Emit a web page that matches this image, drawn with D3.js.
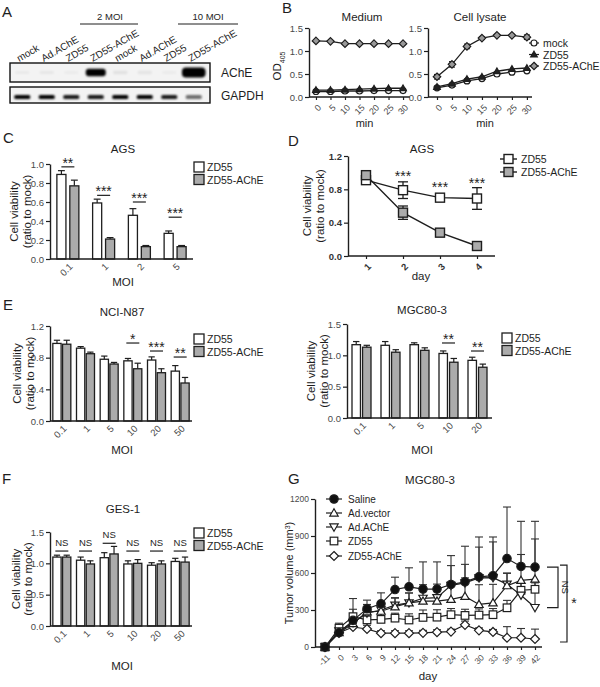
<!DOCTYPE html>
<html><head><meta charset="utf-8">
<script src="https://cdn.jsdelivr.net/npm/d3@7"></script>
<style>body{margin:0;background:#fff}svg{display:block}</style>
</head><body>
<svg id="c" width="600" height="687"></svg>
<script>
// ---------------- DATA ----------------
// A: western blot
const blotLanes = ["mock","Ad.AChE","ZD55","ZD55-AChE","mock","Ad.AChE","ZD55","ZD55-AChE"];
const blotGroups = ["2 MOI","10 MOI"];
const blotAChE = [0.04,0.05,0.03,1.0,0.07,0.06,0.03,1.6];
const blotGAPDH = [1.0,1.0,0.9,0.9,1.0,1.0,0.9,0.55];
// B: OD405
const bTimes = [0,5,10,15,20,25,30];
const bSeries = ["mock","ZD55","ZD55-AChE"];
const bMedMock = [0.12,0.12,0.13,0.13,0.14,0.14,0.14];
const bMedZD55 = [0.15,0.15,0.16,0.17,0.18,0.19,0.19];
const bMedAChE = [1.22,1.21,1.16,1.16,1.16,1.16,1.16];
const bLysMock = [0.20,0.26,0.35,0.40,0.50,0.54,0.57];
const bLysZD55 = [0.22,0.29,0.39,0.44,0.56,0.61,0.63];
const bLysAChE = [0.44,0.71,1.10,1.28,1.34,1.34,1.30];
const bLysAChEErr = [0.05,0.06,0.05,0.03,0.02,0.02,0.05];
const bTicksY = [0,0.5,1.0,1.5];
// C: AGS by MOI
const cMOI = ["0.1","1","2","5"];
const cZD55 = [0.89,0.59,0.46,0.27];
const cZD55Err = [0.04,0.04,0.07,0.025];
const cAChE = [0.77,0.21,0.13,0.13];
const cAChEErr = [0.06,0.015,0.012,0.012];
const cSig = ["**","***","***","***"];
const cSigLevel = [0.97,0.67,0.60,0.44];
const cTicksY = [0,0.2,0.4,0.6,0.8,1.0];
// D: AGS by day
const dDays = [1,2,3,4];
const dZD55 = [0.91,0.79,0.70,0.69];
const dZD55Err = [0.02,0.10,0.03,0.13];
const dAChE = [0.97,0.52,0.28,0.12];
const dAChEErr = [0.02,0.08,0.02,0.02];
const dSig = ["","***","***","***"];
const dSigLevel = [null,0.90,0.77,0.82];
const dTicksY = [0,0.4,0.8,1.2];
// E: NCI-N87
const eMOI = ["0.1","1","5","10","20","50"];
const eZD55 = [0.98,0.92,0.78,0.76,0.77,0.63];
const eZD55Err = [0.04,0.02,0.04,0.03,0.04,0.07];
const eAChE = [0.97,0.85,0.72,0.66,0.61,0.48];
const eAChEErr = [0.05,0.02,0.02,0.07,0.05,0.07];
const eSig = ["","","","*","***","**"];
const eSigLevel = [null,null,null,0.985,0.884,0.808];
const eTicksY = [0,0.4,0.8,1.2];
// E: MGC80-3
const mMOI = ["0.1","1","5","10","20"];
const mZD55 = [1.17,1.16,1.17,1.03,0.92];
const mZD55Err = [0.05,0.06,0.03,0.04,0.05];
const mAChE = [1.13,1.05,1.08,0.89,0.81];
const mAChEErr = [0.03,0.04,0.04,0.06,0.05];
const mSig = ["","","","**","**"];
const mSigLevel = [null,null,null,1.197,1.069];
const mTicksY = [0,0.5,1.0,1.5];
// F: GES-1
const fMOI = ["0.1","1","5","10","20","50"];
const fZD55 = [1.10,1.05,1.09,0.99,0.97,1.03];
const fZD55Err = [0.03,0.05,0.08,0.05,0.04,0.05];
const fAChE = [1.10,0.99,1.15,1.00,0.99,1.02];
const fAChEErr = [0.03,0.05,0.12,0.06,0.05,0.08];
const fSig = ["NS","NS","NS","NS","NS","NS"];
const fSigLevel = [1.196,1.196,1.32,1.196,1.196,1.196];
const fTicksY = [0,0.5,1.0,1.5];
// G: tumor volume
const gDays = ["-11","0","3","6","9","12","15","18","21","24","27","30","33","36","39","42"];
const gSeries = ["Saline","Ad.vector","Ad.AChE","ZD55","ZD55-AChE"];
const gSaline = [0,116,216,310,350,466,488,470,470,507,528,569,578,717,653,648];
const gSalineErr = [0,30,177,70,89,100,154,220,220,234,289,323,314,418,366,371];
const gAdVector = [0,116,190,285,290,326,358,372,372,386,410,345,358,497,540,550];
const gAdVectorErr = [0,30,60,60,50,70,80,100,100,130,150,160,150,100,210,326];
const gAdAChE = [0,130,197,275,300,340,358,395,400,500,520,560,562,510,420,320];
const gAdAChEErr = [0,20,40,40,60,60,80,110,110,160,150,250,290,90,100,200];
const gZD55 = [0,153,246,220,224,234,219,240,242,262,256,259,262,318,460,468];
const gZD55Err = [0,40,60,40,60,40,50,60,60,50,50,50,50,60,60,60];
const gZAChE = [0,115,162,146,112,112,112,115,120,125,180,135,122,75,75,65];
const gZAChEErr = [0,20,30,30,20,20,20,20,20,20,30,20,20,90,75,80];
const gTicksY = [0,300,600,900,1200];

// ---------------- STYLE / HELPERS ----------------
const FONT = '"Liberation Sans", Arial, Helvetica, sans-serif';
const INK = "#1e1e1e", TICKC = "#4a4a4a", GRAY = "#ababab";
const svg = d3.select("#c");
svg.append("rect").attr("width",600).attr("height",687).attr("fill","#fff");
const defs = svg.append("defs");
defs.append("filter").attr("id","blur").attr("x","-50%").attr("y","-100%").attr("width","200%").attr("height","300%")
  .append("feGaussianBlur").attr("stdDeviation",1.1);

function text(p, x, y, s, o = {}) {
  const t = p.append("text").attr("x", x).attr("y", y).text(s)
    .style("font-family", FONT).style("font-size", (o.size || 11) + "px")
    .attr("fill", o.fill || INK).attr("text-anchor", o.anchor || "middle");
  if (o.rotate != null) t.attr("transform", `rotate(${o.rotate},${x},${y})`);
  if (o.weight) t.style("font-weight", o.weight);
  return t;
}
function styleAxis(g, size, weight) {
  g.select(".domain").attr("stroke", INK).attr("stroke-width", 1.4);
  g.selectAll(".tick line").attr("stroke", INK).attr("stroke-width", 1.2);
  g.selectAll(".tick text").attr("fill", TICKC).style("font-size", size + "px").style("font-family", FONT);
  if (weight) g.selectAll(".tick text").style("font-weight", weight).attr("fill", "#333");
}
function yAxis(y, x0, ticks, fmt, size = 9.5, weight) {
  const g = svg.append("g").attr("transform", `translate(${x0},0)`)
    .call(d3.axisLeft(y).tickValues(ticks).tickFormat(fmt).tickSize(4).tickSizeOuter(0).tickPadding(2));
  styleAxis(g, size, weight);
}
function xAxisRot(scale, y0, ticks, x0, x1, tick, size = 9.5, weight, fmt) {
  const a = d3.axisBottom(scale).tickSize(tick).tickSizeOuter(0);
  if (ticks) a.tickValues(ticks);
  if (fmt) a.tickFormat(fmt);
  const g = svg.append("g").attr("transform", `translate(0,${y0})`).call(a);
  g.select(".domain").remove();
  styleAxis(g, size, weight);
  g.selectAll(".tick text").attr("x", 0).attr("y", 0).attr("dy", "0.35em")
    .attr("text-anchor", "end").attr("transform", `translate(3,${tick + 6}) rotate(-45)`);
  g.append("line").attr("x1", x0).attr("x2", x1).attr("y1", 0).attr("y2", 0)
    .attr("stroke", INK).attr("stroke-width", 1.4);
}
function ylabel2(xb1, xb2, cy, l1, l2) {
  text(svg, xb1, cy, l1, { size: 11.5, rotate: -90 });
  text(svg, xb2, cy, l2, { size: 11.5, rotate: -90 });
}
function legendBars(x, y, tx, names) {
  names.forEach((n, i) => {
    svg.append("rect").attr("x", x).attr("y", y + i * 12.5).attr("width", 10).attr("height", 10)
      .attr("fill", i ? GRAY : "#fff").attr("stroke", INK).attr("stroke-width", 1.3);
    text(svg, tx, y + i * 12.5 + 9, n, { size: 10.5, anchor: "start" });
  });
}
const diamondPath = r => `M0,${-r}L${r},0L0,${r}L${-r},0Z`;
function marker(g, type, x, y, s) {
  let p;
  if (type === "circle") p = g.append("circle").attr("cx", x).attr("cy", y).attr("r", s);
  else if (type === "square") p = g.append("rect").attr("x", x - s).attr("y", y - s).attr("width", 2 * s).attr("height", 2 * s);
  else if (type === "diamond") p = g.append("path").attr("d", diamondPath(s * 1.25)).attr("transform", `translate(${x},${y})`);
  else if (type === "tri") p = g.append("path").attr("d", `M0,${-s * 1.1}L${s * 1.1},${s * 0.8}L${-s * 1.1},${s * 0.8}Z`).attr("transform", `translate(${x},${y})`);
  else if (type === "trid") p = g.append("path").attr("d", `M0,${s * 1.1}L${s * 1.1},${-s * 0.8}L${-s * 1.1},${-s * 0.8}Z`).attr("transform", `translate(${x},${y})`);
  return p.attr("stroke", INK).attr("stroke-width", 1.2);
}

// ---------------- PANEL LETTERS ----------------
[["A",2,17],["B",282,13],["C",3,143],["D",288,146],["E",3,310],["F",2,484],["G",288,484]]
  .forEach(([l,x,y]) => text(svg, x, y, l, { size: 15, anchor: "start" }));

// ---------------- A: BLOT ----------------
(function () {
  const lx = d3.scaleBand().domain(d3.range(blotLanes.length)).range([10, 206]);
  const gA = svg.append("g");
  [[80,138,110],[178,238,208]].forEach((d, i) => {
    gA.append("line").attr("x1", d[0]).attr("x2", d[1]).attr("y1", 24).attr("y2", 24).attr("stroke", INK).attr("stroke-width", 1);
    text(gA, d[2], 20, blotGroups[i], { size: 9.5 });
  });
  blotLanes.forEach((l, i) => {
    const cx = lx(i) + lx.bandwidth() / 2;
    text(gA, cx - 3, 62, l, { size: 10, anchor: "start", rotate: -30 });
  });
  gA.append("rect").attr("x", 10).attr("y", 63).attr("width", 200).attr("height", 19).attr("fill", "#f3f3f3").attr("stroke", "#111").attr("stroke-width", 1.4);
  gA.append("rect").attr("x", 10).attr("y", 87).attr("width", 200).attr("height", 16).attr("fill", "#f3f3f3").attr("stroke", "#111").attr("stroke-width", 1.4);
  blotAChE.forEach((v, i) => {
    const cx = lx(i) + lx.bandwidth() / 2;
    const w = 14 + 6 * v, h = 3 + 4.5 * v;
    gA.append("rect").attr("x", cx - w / 2).attr("y", 72.5 - h / 2).attr("width", w).attr("height", h)
      .attr("rx", h / 2.5).attr("fill", "#000").attr("opacity", Math.min(1, v)).attr("filter", "url(#blur)");
  });
  blotGAPDH.forEach((v, i) => {
    const cx = lx(i) + lx.bandwidth() / 2;
    gA.append("rect").attr("x", cx - 8).attr("y", 95).attr("width", 16).attr("height", 4)
      .attr("rx", 1.5).attr("fill", "#000").attr("opacity", v).attr("filter", "url(#blur)");
  });
  text(gA, 221, 77, "AChE", { size: 12, anchor: "start" });
  text(gA, 221, 100, "GAPDH", { size: 12, anchor: "start" });
})();

// ---------------- B: OD405 ----------------
(function () {
  const y = d3.scaleLinear().domain([0, 1.5]).range([97, 28]);
  const fmt = d3.format(".1f");
  const panels = [
    { x0: 309, x1: 410, dom: [-2.4, 32.4], title: "Medium", tx: 362, mock: bMedMock, zd: bMedZD55, ach: bMedAChE, err: null },
    { x0: 428, x1: 532, dom: [-3, 31.7], title: "Cell lysate", tx: 480, mock: bLysMock, zd: bLysZD55, ach: bLysAChE, err: bLysAChEErr }
  ];
  panels.forEach(p => {
    const x = d3.scaleLinear().domain(p.dom).range([p.x0, p.x1]);
    yAxis(y, p.x0, bTicksY, fmt, 9.5);
    xAxisRot(x, 97, bTimes, p.x0, p.x1, 3, 9, null, d3.format("d"));
    text(svg, p.tx, 21, p.title, { size: 11.5 });
    text(svg, (p.x0 + p.x1) / 2 + 5, 127, "min", { size: 11 });
    const g = svg.append("g");
    const line = d3.line().x((d, i) => x(bTimes[i])).y(d => y(d));
    [p.mock, p.zd, p.ach].forEach(s => g.append("path").attr("d", line(s)).attr("fill", "none").attr("stroke", INK).attr("stroke-width", 1.3));
    if (p.err) p.ach.forEach((v, i) => {
      const cx = x(bTimes[i]);
      g.append("line").attr("x1", cx).attr("x2", cx).attr("y1", y(v - p.err[i])).attr("y2", y(v + p.err[i])).attr("stroke", INK).attr("stroke-width", 1.1);
      [v - p.err[i], v + p.err[i]].forEach(e => g.append("line").attr("x1", cx - 3).attr("x2", cx + 3).attr("y1", y(e)).attr("y2", y(e)).attr("stroke", INK).attr("stroke-width", 1.1));
    });
    p.mock.forEach((v, i) => { marker(g, "circle", x(bTimes[i]), y(v), 3).attr("fill", "#fff"); });
    p.zd.forEach((v, i) => { marker(g, "tri", x(bTimes[i]), y(v), 3).attr("fill", "#222"); });
    p.ach.forEach((v, i) => { marker(g, "diamond", x(bTimes[i]), y(v), 3).attr("fill", "#999"); });
  });
  const t = text(svg, 281, 66, "OD", { size: 11.5, rotate: -90 });
  t.append("tspan").attr("baseline-shift", "sub").style("font-size", "7px").text("405");
  const types = ["circle", "tri", "diamond"], fills = ["#fff", "#222", "#999"];
  bSeries.forEach((n, i) => {
    const yy = 43 + i * 11.5;
    svg.append("line").attr("x1", 529).attr("x2", 539).attr("y1", yy).attr("y2", yy).attr("stroke", INK).attr("stroke-width", 1.2);
    marker(svg, types[i], 534, yy, 3).attr("fill", fills[i]);
    text(svg, 543, yy + 4, n, { size: 10.5, anchor: "start" });
  });
})();

// ---------------- BAR CHART HELPER ----------------
function barChart(o) {
  const x = d3.scaleBand().domain(o.cats).range(o.xr);
  const y = d3.scaleLinear().domain(o.yd).range(o.yr);
  const sub = d3.scaleBand().domain(["ZD55", "ZD55-AChE"]).range([-o.half, o.half]).paddingInner(o.pad);
  const g = svg.append("g");
  const series = [{ k: "ZD55", v: o.a, e: o.ae, fill: "#fff" }, { k: "ZD55-AChE", v: o.b, e: o.be, fill: GRAY }];
  series.forEach(s => s.v.forEach((v, i) => {
    const w = sub.bandwidth();
    const x0 = x(o.cats[i]) + x.bandwidth() / 2 + sub(s.k);
    const cx = x0 + w / 2, top = y(v + s.e[i]);
    g.append("line").attr("x1", cx).attr("x2", cx).attr("y1", y(v)).attr("y2", top).attr("stroke", INK).attr("stroke-width", 1.2);
    g.append("line").attr("x1", cx - w * 0.38).attr("x2", cx + w * 0.38).attr("y1", top).attr("y2", top).attr("stroke", INK).attr("stroke-width", 1.2);
    g.append("rect").attr("x", x0).attr("y", y(v)).attr("width", w).attr("height", y(0) - y(v))
      .attr("fill", s.fill).attr("stroke", INK).attr("stroke-width", 1.3);
  }));
  yAxis(y, o.xr[0], o.ticks, d3.format(".1f"), 9.5);
  xAxisRot(x, o.yr[0], null, o.xr[0], o.xr[1], 0, 9.5);
  o.sig.forEach((s, i) => {
    if (!s) return;
    const cx = x(o.cats[i]) + x.bandwidth() / 2, ly = y(o.sigLevel[i]);
    g.append("line").attr("x1", cx - 6.5).attr("x2", cx + 6.5).attr("y1", ly).attr("y2", ly).attr("stroke", INK).attr("stroke-width", 1.2);
    if (s === "NS") text(g, cx, ly - 5, s, { size: 9.5 });
    else text(g, cx, ly + 1, s, { size: 14 });
  });
  text(svg, o.title[0], o.title[1], o.title[2], { size: 11.5 });
  text(svg, o.xl[0], o.xl[1], "MOI", { size: 11.5 });
  ylabel2(o.yl[0], o.yl[1], (o.yr[0] + o.yr[1]) / 2, "Cell viability", "(ratio to mock)");
  legendBars(o.lg[0], o.lg[1], o.lg[2], ["ZD55", "ZD55-AChE"]);
}

barChart({ cats: cMOI, a: cZD55, ae: cZD55Err, b: cAChE, be: cAChEErr, xr: [50, 193], yd: [0, 1], yr: [259, 164],
  half: 11, pad: 0.3, ticks: cTicksY, sig: cSig, sigLevel: cSigLevel, title: [123, 153, "AGS"], xl: [123, 286],
  yl: [18, 31], lg: [194, 162, 207] });
barChart({ cats: eMOI, a: eZD55, ae: eZD55Err, b: eAChE, be: eAChEErr, xr: [50, 192], yd: [0, 1.2], yr: [421, 326],
  half: 9, pad: 0.15, ticks: eTicksY, sig: eSig, sigLevel: eSigLevel, title: [122, 316, "NCI-N87"], xl: [122, 454],
  yl: [21, 34], lg: [194, 334, 207] });
barChart({ cats: mMOI, a: mZD55, ae: mZD55Err, b: mAChE, be: mAChEErr, xr: [347, 492], yd: [0, 1.5], yr: [418, 324],
  half: 9.5, pad: 0.2, ticks: mTicksY, sig: mSig, sigLevel: mSigLevel, title: [422, 314, "MGC80-3"], xl: [422, 454],
  yl: [315, 328], lg: [502, 333, 515] });
barChart({ cats: fMOI, a: fZD55, ae: fZD55Err, b: fAChE, be: fAChEErr, xr: [50, 192], yd: [0, 1.5], yr: [626, 532],
  half: 9, pad: 0.15, ticks: fTicksY, sig: fSig, sigLevel: fSigLevel, title: [123, 513, "GES-1"], xl: [122, 670],
  yl: [20, 32], lg: [194, 528, 207] });

// ---------------- D ----------------
(function () {
  const x = d3.scaleLinear().domain([1, 4]).range([366, 477]);
  const y = d3.scaleLinear().domain([0, 1.2]).range([256, 156]);
  yAxis(y, 348, dTicksY, d3.format(".1f"), 9.5, "bold");
  xAxisRot(x, 256, dDays, 348, 495, 3, 9.5, "bold", d3.format("d"));
  const g = svg.append("g");
  const line = d3.line().x((d, i) => x(dDays[i])).y(d => y(d));
  const ser = [{ v: dZD55, e: dZD55Err, f: "#fff" }, { v: dAChE, e: dAChEErr, f: GRAY }];
  ser.forEach(s => g.append("path").attr("d", line(s.v)).attr("fill", "none").attr("stroke", INK).attr("stroke-width", 1.4));
  ser.forEach(s => s.v.forEach((v, i) => {
    const cx = x(dDays[i]);
    g.append("line").attr("x1", cx).attr("x2", cx).attr("y1", y(v - s.e[i])).attr("y2", y(v + s.e[i])).attr("stroke", INK).attr("stroke-width", 1.3);
    [v - s.e[i], v + s.e[i]].forEach(e => g.append("line").attr("x1", cx - 5).attr("x2", cx + 5).attr("y1", y(e)).attr("y2", y(e)).attr("stroke", INK).attr("stroke-width", 1.3));
  }));
  ser.forEach(s => s.v.forEach((v, i) => marker(g, "square", x(dDays[i]), y(v), 4.5).attr("fill", s.f).attr("stroke-width", 1.4)));
  dSig.forEach((s, i) => { if (s) text(g, x(dDays[i]), y(dSigLevel[i]), s, { size: 14 }); });
  text(svg, 422, 153, "AGS", { size: 11.5 });
  text(svg, 421, 280, "day", { size: 11.5 });
  ylabel2(311, 324, 206, "Cell viability", "(ratio to mock)");
  ["ZD55", "ZD55-AChE"].forEach((n, i) => {
    const yy = 159 + i * 13, f = i ? GRAY : "#fff";
    svg.append("line").attr("x1", 500).attr("x2", 517).attr("y1", yy).attr("y2", yy).attr("stroke", INK).attr("stroke-width", 1.4);
    marker(svg, "square", 508.5, yy, 4.5).attr("fill", f).attr("stroke-width", 1.4);
    text(svg, 521, yy + 4, n, { size: 10.5, anchor: "start" });
  });
})();

// ---------------- G ----------------
(function () {
  const x = d3.scalePoint().domain(gDays).range([325, 535]);
  const y = d3.scaleLinear().domain([0, 1200]).range([647, 499]);
  yAxis(y, 315, gTicksY, d3.format("d"), 8.5);
  xAxisRot(x, 647, null, 315, 542, 3, 8.5);
  const g = svg.append("g");
  const ser = [
    { n: "ZD55-AChE", v: gZAChE, e: gZAChEErr, t: "diamond", f: "#fff", s: 3.6 },
    { n: "ZD55", v: gZD55, e: gZD55Err, t: "square", f: "#fff", s: 3.8 },
    { n: "Ad.AChE", v: gAdAChE, e: gAdAChEErr, t: "trid", f: "#fff", s: 3.8 },
    { n: "Ad.vector", v: gAdVector, e: gAdVectorErr, t: "tri", f: "#fff", s: 3.8 },
    { n: "Saline", v: gSaline, e: gSalineErr, t: "circle", f: "#111", s: 4.2 }
  ];
  ser.forEach(s => s.v.forEach((v, i) => {
    if (!s.e[i]) return;
    const cx = x(gDays[i]), top = y(v + s.e[i]);
    g.append("line").attr("x1", cx).attr("x2", cx).attr("y1", y(v)).attr("y2", top).attr("stroke", "#333").attr("stroke-width", 1.1);
    g.append("line").attr("x1", cx - 4).attr("x2", cx + 4).attr("y1", top).attr("y2", top).attr("stroke", "#333").attr("stroke-width", 1.1);
  }));
  const line = d3.line().x((d, i) => x(gDays[i])).y(d => y(d));
  ser.forEach(s => {
    g.append("path").attr("d", line(s.v)).attr("fill", "none").attr("stroke", INK).attr("stroke-width", 1.2);
    s.v.forEach((v, i) => marker(g, s.t, x(gDays[i]), y(v), s.s).attr("fill", s.f));
  });
  text(svg, 430, 484, "MGC80-3", { size: 11.5 });
  text(svg, 428, 680, "day", { size: 11.5 });
  const yl = text(svg, 293, 573, "Tumor volume (mm", { size: 11, rotate: -90 });
  yl.append("tspan").attr("baseline-shift", "super").style("font-size", "7px").text("3");
  yl.append("tspan").text(")");
  const legOrder = ["Saline", "Ad.vector", "Ad.AChE", "ZD55", "ZD55-AChE"];
  const legY = [499, 513, 527, 541, 556];
  legOrder.forEach((n, i) => {
    const s = ser.find(d => d.n === n), yy = legY[i];
    svg.append("line").attr("x1", 326).attr("x2", 342).attr("y1", yy).attr("y2", yy).attr("stroke", INK).attr("stroke-width", 1.2);
    marker(svg, s.t, 334, yy, s.s).attr("fill", s.f);
    text(svg, 348, yy + 4, n, { size: 10, anchor: "start" });
  });
  const last = gDays.length - 1;
  const br = (xv, x0, yTop, yBot) => {
    svg.append("path").attr("d", `M${x0},${yTop}H${xv}V${yBot}H${x0}`).attr("fill", "none").attr("stroke", INK).attr("stroke-width", 1.2);
  };
  br(558, 547, y(gSaline[last]), y(gAdAChE[last]));
  text(svg, 562, (y(gSaline[last]) + y(gAdAChE[last])) / 2, "NS", { size: 9.5, rotate: 90 });
  br(567, 560, y(gSaline[last]) - 2, y(gZAChE[last]) + 3);
  text(svg, 574, 608, "*", { size: 14 });
})();
</script>
</body></html>
